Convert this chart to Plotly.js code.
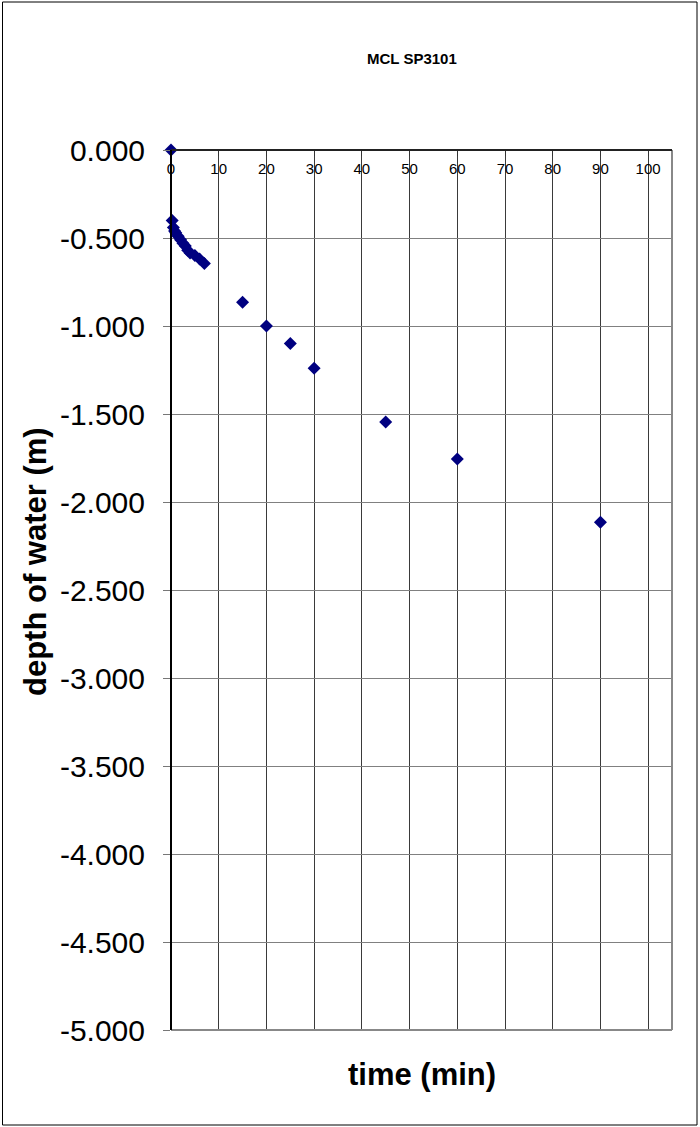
<!DOCTYPE html>
<html>
<head>
<meta charset="utf-8">
<script src="https://cdn.plot.ly/plotly-3.0.1.min.js"></script>
<style>
html,body{margin:0;padding:0;background:#fff;}
#chart{width:700px;height:1127px;}
</style>
</head>
<body>
<div id="chart"></div>
<script>
const chartTitle = "MCL SP3101";
const xTitle = "time (min)";
const yTitle = "depth of water (m)";
const timeMin = [0, 0.25, 0.5, 0.75, 1, 1.5, 2, 2.5, 3, 3.5, 4, 5, 6, 7, 15, 20, 25, 30, 45, 60, 90];
const depthM = [0, -0.40, -0.44, -0.46, -0.47, -0.49, -0.51, -0.53, -0.545, -0.57, -0.585, -0.60, -0.62, -0.645, -0.865, -1.00, -1.10, -1.24, -1.545, -1.755, -2.115];
const xTickVals = [0, 10, 20, 30, 40, 50, 60, 70, 80, 90, 100];
const xTickText = ["0", "10", "20", "30", "40", "50", "60", "70", "80", "90", "100"];
const yTickVals = [0, -0.5, -1, -1.5, -2, -2.5, -3, -3.5, -4, -4.5, -5];
const yTickText = ["0.000", "-0.500", "-1.000", "-1.500", "-2.000", "-2.500", "-3.000", "-3.500", "-4.000", "-4.500", "-5.000"];

const L = 171, R = 672, T = 150, B = 1030, W = 700, H = 1127;
const pw = R - L, ph = B - T;
const px = v => (v - L) / pw;
const py = v => (B - v) / ph;

const font = "Arial, 'Liberation Sans', sans-serif";

const trace = {
  x: timeMin, y: depthM, type: 'scatter', mode: 'markers',
  marker: {symbol: 'diamond', size: 10, color: '#000080', line: {width: 0}},
  cliponaxis: false, showlegend: false, hoverinfo: 'x+y'
};

const layout = {
  width: W, height: H,
  margin: {l: L, r: W - R, t: T, b: H - B, pad: 0},
  paper_bgcolor: '#fff', plot_bgcolor: '#fff',
  font: {family: font, color: '#000'},
  showlegend: false,
  xaxis: {
    range: [0, 105], tickmode: 'array', tickvals: xTickVals, ticktext: xTickText,
    anchor: 'free', position: 1, side: 'bottom',
    ticks: 'outside', ticklen: 5, tickcolor: '#333',
    showgrid: true, gridcolor: '#3a3a3a', gridwidth: 1,
    showline: false, zeroline: false,
    tickfont: {family: font, size: 15, color: '#000'},
    fixedrange: true
  },
  yaxis: {
    range: [-5, 0], tickmode: 'array', tickvals: yTickVals, ticktext: yTickText,
    ticks: 'outside', ticklen: 7, tickcolor: '#777',
    ticklabelstandoff: 12,
    showgrid: true, gridcolor: '#808080', gridwidth: 1,
    showline: false, zeroline: false,
    tickfont: {family: font, size: 30, color: '#000'},
    fixedrange: true
  },
  shapes: [
    {type: 'line', xref: 'paper', yref: 'paper', x0: 0, x1: 1, y0: 0, y1: 0, line: {color: '#888', width: 2}},
    {type: 'line', xref: 'paper', yref: 'paper', x0: 1, x1: 1, y0: 0, y1: 1, line: {color: '#888', width: 2}},
    {type: 'line', xref: 'paper', yref: 'paper', x0: 0, x1: 1, y0: 1, y1: 1, line: {color: '#222', width: 2}},
    {type: 'line', xref: 'paper', yref: 'paper', x0: 0, x1: 0, y0: 0, y1: 1, line: {color: '#000', width: 2}},
    {type: 'rect', xref: 'paper', yref: 'paper', x0: px(2.5), x1: px(697), y0: py(1125), y1: py(2), line: {color: '#000', width: 1}, fillcolor: 'rgba(0,0,0,0)'}
  ],
  annotations: [
    {text: '<b>' + chartTitle + '</b>', xref: 'paper', yref: 'paper', x: px(412), y: py(58), xanchor: 'center', yanchor: 'middle', showarrow: false, font: {family: font, size: 15, color: '#000'}},
    {text: '<b>' + xTitle + '</b>', xref: 'paper', yref: 'paper', x: px(422), y: py(1074), xanchor: 'center', yanchor: 'middle', showarrow: false, font: {family: font, size: 31, color: '#000'}},
    {text: '<b>' + yTitle + '</b>', xref: 'paper', yref: 'paper', x: px(35), y: py(562), xanchor: 'center', yanchor: 'middle', textangle: -90, showarrow: false, font: {family: font, size: 31, color: '#000'}}
  ]
};

Plotly.newPlot('chart', [trace], layout, {displayModeBar: false, staticPlot: true});
</script>
</body>
</html>
